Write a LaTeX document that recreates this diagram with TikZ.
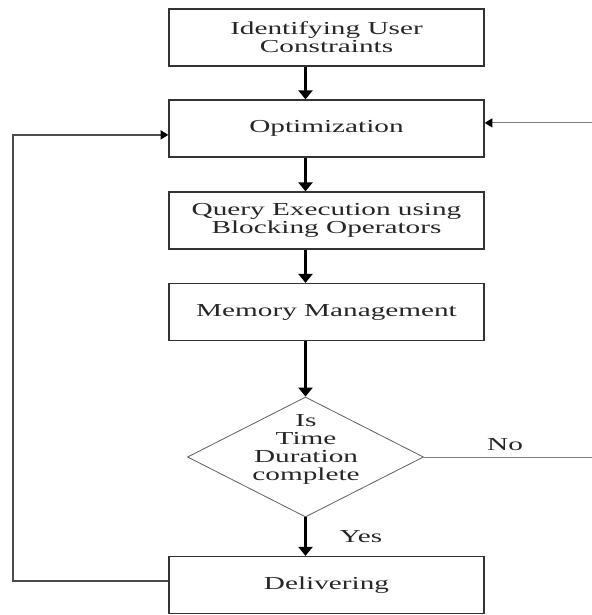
\documentclass[tikz,border=0pt]{standalone}
\usepackage{fontspec}
\setmainfont[FakeStretch=1.6]{Liberation Serif}
\usetikzlibrary{arrows.meta, positioning, shapes.geometric}

\begin{document}
\begin{tikzpicture}[x=0.025cm,y=-0.025cm,font=\fontsize{13}{12.8}\selectfont,text=black!85,stepbox/.style={draw=black!80,line width=0.9pt,align=center,minimum width=7.875cm,minimum height=1.425cm,inner sep=0pt},decision/.style={diamond,draw=black!60,line width=0.6pt,minimum width=5.9cm,minimum height=3cm,inner sep=0pt},arrow/.style={line width=2pt,-{Triangle[length=6.4pt,width=10pt]}},loopback/.style={draw=black!70,line width=1pt,-{Triangle[length=5.5pt,width=6.5pt,black]}},noline/.style={draw=black!50,line width=0.7pt,-{Triangle[length=5.5pt,width=6.5pt,black]}}]
\useasboundingbox (0,0) rectangle (591,615);
\node[stepbox] (ident) at (326.5,37.5){Identifying User\\Constraints};
\node[stepbox] (optim) at (326.5,128.5){Optimization};
\node[stepbox] (query) at (326.5,220.5){Query Execution using\\Blocking Operators};
\node[stepbox] (memory) at (326.5,312){Memory Management};
\node[decision] (dec) at (305.5,457){};
\node[align=center,font=\fontsize{13}{12.6}\selectfont] (dectext) at (306,449.5){Is\\Time\\Duration\\complete};
\node[stepbox] (deliver) at (326.5,585){Delivering};
\node (yes) at (361,537){Yes};
\node (no) at (505,445){No};
\coordinate (lcorner) at (13,0);
\coordinate (rcorner) at (593,0);
\draw[arrow] (ident.south -| dec.north) -- (optim.north -| dec.north); \draw[arrow] (optim.south -| dec.north) -- (query.north -| dec.north); \draw[arrow] (query.south -| dec.north) -- (memory.north -| dec.north); \draw[arrow] (memory.south -| dec.north) -- (dec.north); \draw[arrow] (dec.south) -- (deliver.north -| dec.south);
\draw[loopback] ([yshift=0.1cm]deliver.west) -- ([yshift=0.1cm]deliver.west -| lcorner) |- ([yshift=-0.16cm]optim.west);
\draw[noline] (dec.east) -- (dec.east -| rcorner) |- ([yshift=0.14cm]optim.east);
\end{tikzpicture}
\end{document}
